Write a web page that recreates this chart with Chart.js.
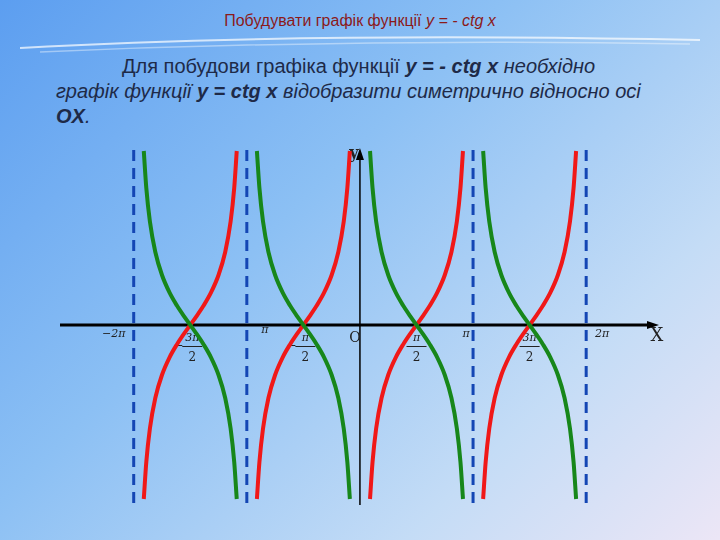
<!DOCTYPE html>
<html><head><meta charset="utf-8">
<script src="https://cdn.jsdelivr.net/npm/chart.js@4"></script>
<style>
body{margin:0;width:720px;height:540px;overflow:hidden;background:linear-gradient(135deg,#5c9ef0 0%,#8cc0f4 40%,#c4dcf6 75%,#ece6f6 100%);font-family:"Liberation Sans",Arial,sans-serif;position:relative}
#t{position:absolute;top:12px;left:0;width:720px;text-align:center;font-size:16px;color:#8b1a1a}
#p{position:absolute;top:54px;left:56px;width:660px;font-size:20px;line-height:25px;color:#1e2a48;white-space:nowrap}
#p .i{font-style:italic}
#c{position:absolute;left:0;top:0}
</style></head><body>
<svg style="position:absolute;left:0;top:30px" width="720" height="30"><path d="M20 18 Q 300 2 700 10" stroke="#ffffff" stroke-opacity="0.7" fill="none" stroke-width="2"/><path d="M40 22 Q 360 8 690 14" stroke="#ffffff" stroke-opacity="0.4" fill="none" stroke-width="1.5"/></svg>
<div id="t">Побудувати графік функції <i>y = - ctg x</i></div>
<div id="p"><span style="display:inline-block;width:66px"></span>Для побудови графіка функції <i><b>y = - ctg x</b></i> <span class="i">необхідно</span><br><span class="i">графік функції</span> <i><b>y = ctg x</b></i> <span class="i">відобразити симетрично відносно осі</span><br><i><b>OX</b>.</i></div>
<canvas id="c" width="720" height="540"></canvas>
<script>
const branchStarts = [-6.2832, -3.1416, 0, 3.1416];
const asymptotes = [-6.2832, -3.1416, 3.1416, 6.2832];
const offsets = [0.28,0.35,0.45,0.6,0.785,1.0,1.2,1.4,1.5708,1.7416,1.9416,2.1416,2.3566,2.5416,2.6916,2.7916,2.8616];
const cotValues = [3.48,2.74,2.07,1.46,1.0,0.642,0.389,0.172,0,-0.172,-0.389,-0.642,-1.0,-1.46,-2.07,-2.74,-3.48];
const tickLabels = [
 {x:-6.2832, t:'−2π'}, {x:-4.7124, t:'3π/2', neg:true}, {x:-3.1416, t:'π'},
 {x:-1.5708, t:'π/2', neg:true}, {x:0, t:'O'}, {x:1.5708, t:'π/2'},
 {x:3.1416, t:'π'}, {x:4.7124, t:'3π/2'}, {x:6.2832, t:'2π'}
];
const datasets = [];
branchStarts.forEach(b=>{
  datasets.push({data:offsets.map((o,i)=>({x:b+o,y:cotValues[i]})),borderColor:'#17871a',borderWidth:4,pointRadius:0,tension:0.4,cubicInterpolationMode:'monotone'});
  datasets.push({data:offsets.map((o,i)=>({x:b+o,y:-cotValues[i]})),borderColor:'#f01818',borderWidth:4,pointRadius:0,tension:0.4,cubicInterpolationMode:'monotone'});
});
const deco = {id:'deco',
 beforeDatasetsDraw(ch){
  const c=ch.ctx,xs=ch.scales.x,ys=ch.scales.y,a=ch.chartArea;
  const y0=ys.getPixelForValue(0);
  c.save();
  c.strokeStyle='#1446b4';c.lineWidth=3;c.setLineDash([11,7]);
  asymptotes.forEach(v=>{const px=xs.getPixelForValue(v);c.beginPath();c.moveTo(px,a.top);c.lineTo(px,a.bottom);c.stroke();});
  c.setLineDash([]);
  const x0=xs.getPixelForValue(0);
  c.strokeStyle='#000';c.lineWidth=3;
  c.beginPath();c.moveTo(a.left,y0);c.lineTo(a.right-4,y0);c.stroke();
  c.lineWidth=1.5;c.beginPath();c.moveTo(x0,a.bottom);c.lineTo(x0,a.top+4);c.stroke();
  c.fillStyle='#000';
  c.beginPath();c.moveTo(x0,a.top-2);c.lineTo(x0-4,a.top+10);c.lineTo(x0+4,a.top+10);c.fill();
  c.beginPath();c.moveTo(a.right+2,y0);c.lineTo(a.right-10,y0-4);c.lineTo(a.right-10,y0+4);c.fill();
  c.font='italic 11px "DejaVu Serif",serif';c.fillStyle='#222';c.textAlign='center';
  tickLabels.forEach(l=>{
    let px=xs.getPixelForValue(l.x);
    if(l.t==='O'){c.font='14px "DejaVu Serif",serif';c.fillText('O',px-5,y0+17);c.font='italic 11px "DejaVu Serif",serif';return;}
    if(l.t.includes('/')){
      const [n,d]=l.t.split('/');
      px+= l.x<0?2:0;
      c.fillText(n,px,y0+16);
      c.fillRect(px-10,y0+21,20,1);
      c.font='12px "DejaVu Serif",serif';c.fillText(d,px,y0+36);c.font='italic 11px "DejaVu Serif",serif';
      if(l.neg) c.fillRect(px-16,y0+20,6,1);
    } else {
      const dx = l.x<-5?-20:(l.x<0?18:(l.x<4?-7:16));
      c.fillText(l.t,px+dx,y0+(l.x<0&&l.x>-5?8:12));
    }
  });
  c.font='18px "DejaVu Serif",serif';c.fillText('X',a.right,y0+16);
  c.font='bold 16px "DejaVu Serif",serif';c.fillText('y',x0-6,a.top+8);
  c.restore();
 }};
new Chart(document.getElementById('c'),{type:'line',data:{datasets},
 options:{responsive:false,animation:false,layout:{padding:{left:60,right:63,top:150,bottom:35}},
  plugins:{legend:{display:false},tooltip:{enabled:false}},
  scales:{x:{type:'linear',min:-8.33,max:8.25,display:false},y:{min:-3.6,max:3.5,display:false}}},
 plugins:[deco]});
</script></body></html>
